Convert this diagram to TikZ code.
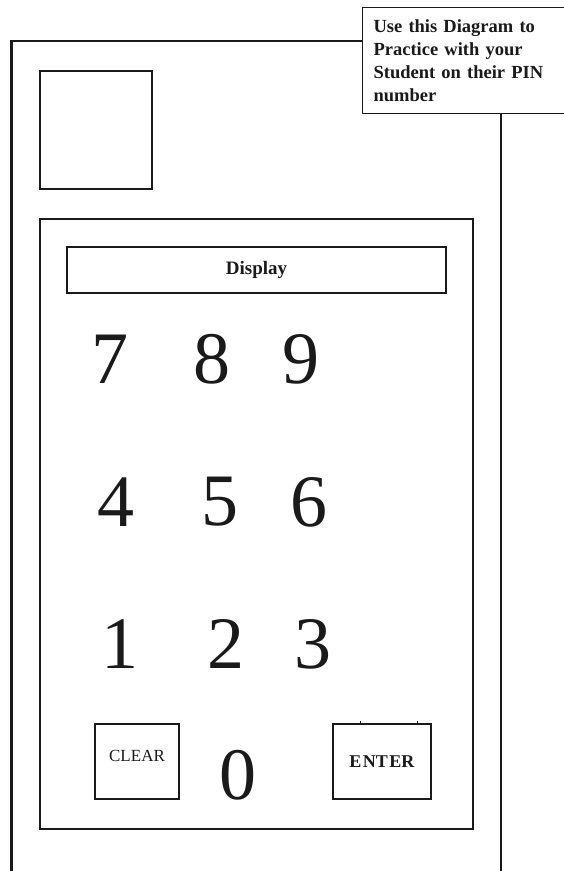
\documentclass[tikz,border=0pt]{standalone}
\usepackage{fontspec}
\setmainfont{Liberation Serif}
\usetikzlibrary{positioning}
\definecolor{padInk}{HTML}{1A1A1A}

\begin{document}
\begin{tikzpicture}[x=1pt,y=-1pt,
  keybox/.style={draw=padInk, line width=1.2pt, minimum height=75pt, inner sep=0pt},
  digit/.style={font=\fontsize{74}{74}\selectfont, text=padInk, inner sep=0pt}]
  \clip (0,0) rectangle (564,871);
  % note in the corner
  \node[draw=padInk, line width=1.2pt, anchor=north west, minimum height=106pt,
        text width=200pt, inner xsep=11pt, align=left, text=padInk,
        font=\bfseries\fontsize{18.5}{23}\selectfont] (note) at (362,7)
        {Use this Diagram to\\Practice with your\\Student on their PIN\\number};
  % casing
  \draw[padInk, line width=2.2pt] (11.5,871) -- (11.5,41) -- (note.west |- 0,41);
  \draw[padInk, line width=2.2pt] (note.south -| 501,0) -- (501,871);
  \draw[padInk, line width=1.2pt] (40,71) rectangle (152,189);
  \draw[padInk, line width=1.6pt] (40,219) rectangle (473,829);
  % display and keys
  \node[draw=padInk, line width=1.2pt, minimum width=379pt, minimum height=46pt,
        font=\bfseries\fontsize{19}{19}\selectfont, text=padInk] (display) at (256.5,270) {Display};
  \foreach \px/\py/\d in {110/359/7, 212/359/8, 301/359/9,
                          116/502/4, 220/502/5, 309/502/6,
                          120/644/1, 226/644/2, 313/644/3, 238/775/0}
    \node[digit] (key\d) at (\px,\py) {\d};
  \node[keybox, minimum width=84pt, text depth=12pt, text=padInk,
        font=\fontsize{17}{17}\selectfont] (clear) at (137,761.5) {CLEAR};
  \node[keybox, minimum width=98pt, text=padInk,
        font=\bfseries\fontsize{18}{18}\selectfont] (enter) at (382,761.5) {E\hspace{1.5pt}NT\hspace{1.5pt}ER};
  \draw[padInk, line width=1pt] (enter.north west) ++(28,0) -- ++(0,-2.5);
  \draw[padInk, line width=1pt] (enter.north east) ++(-14,0) -- ++(0,-2.5);
\end{tikzpicture}
\end{document}
